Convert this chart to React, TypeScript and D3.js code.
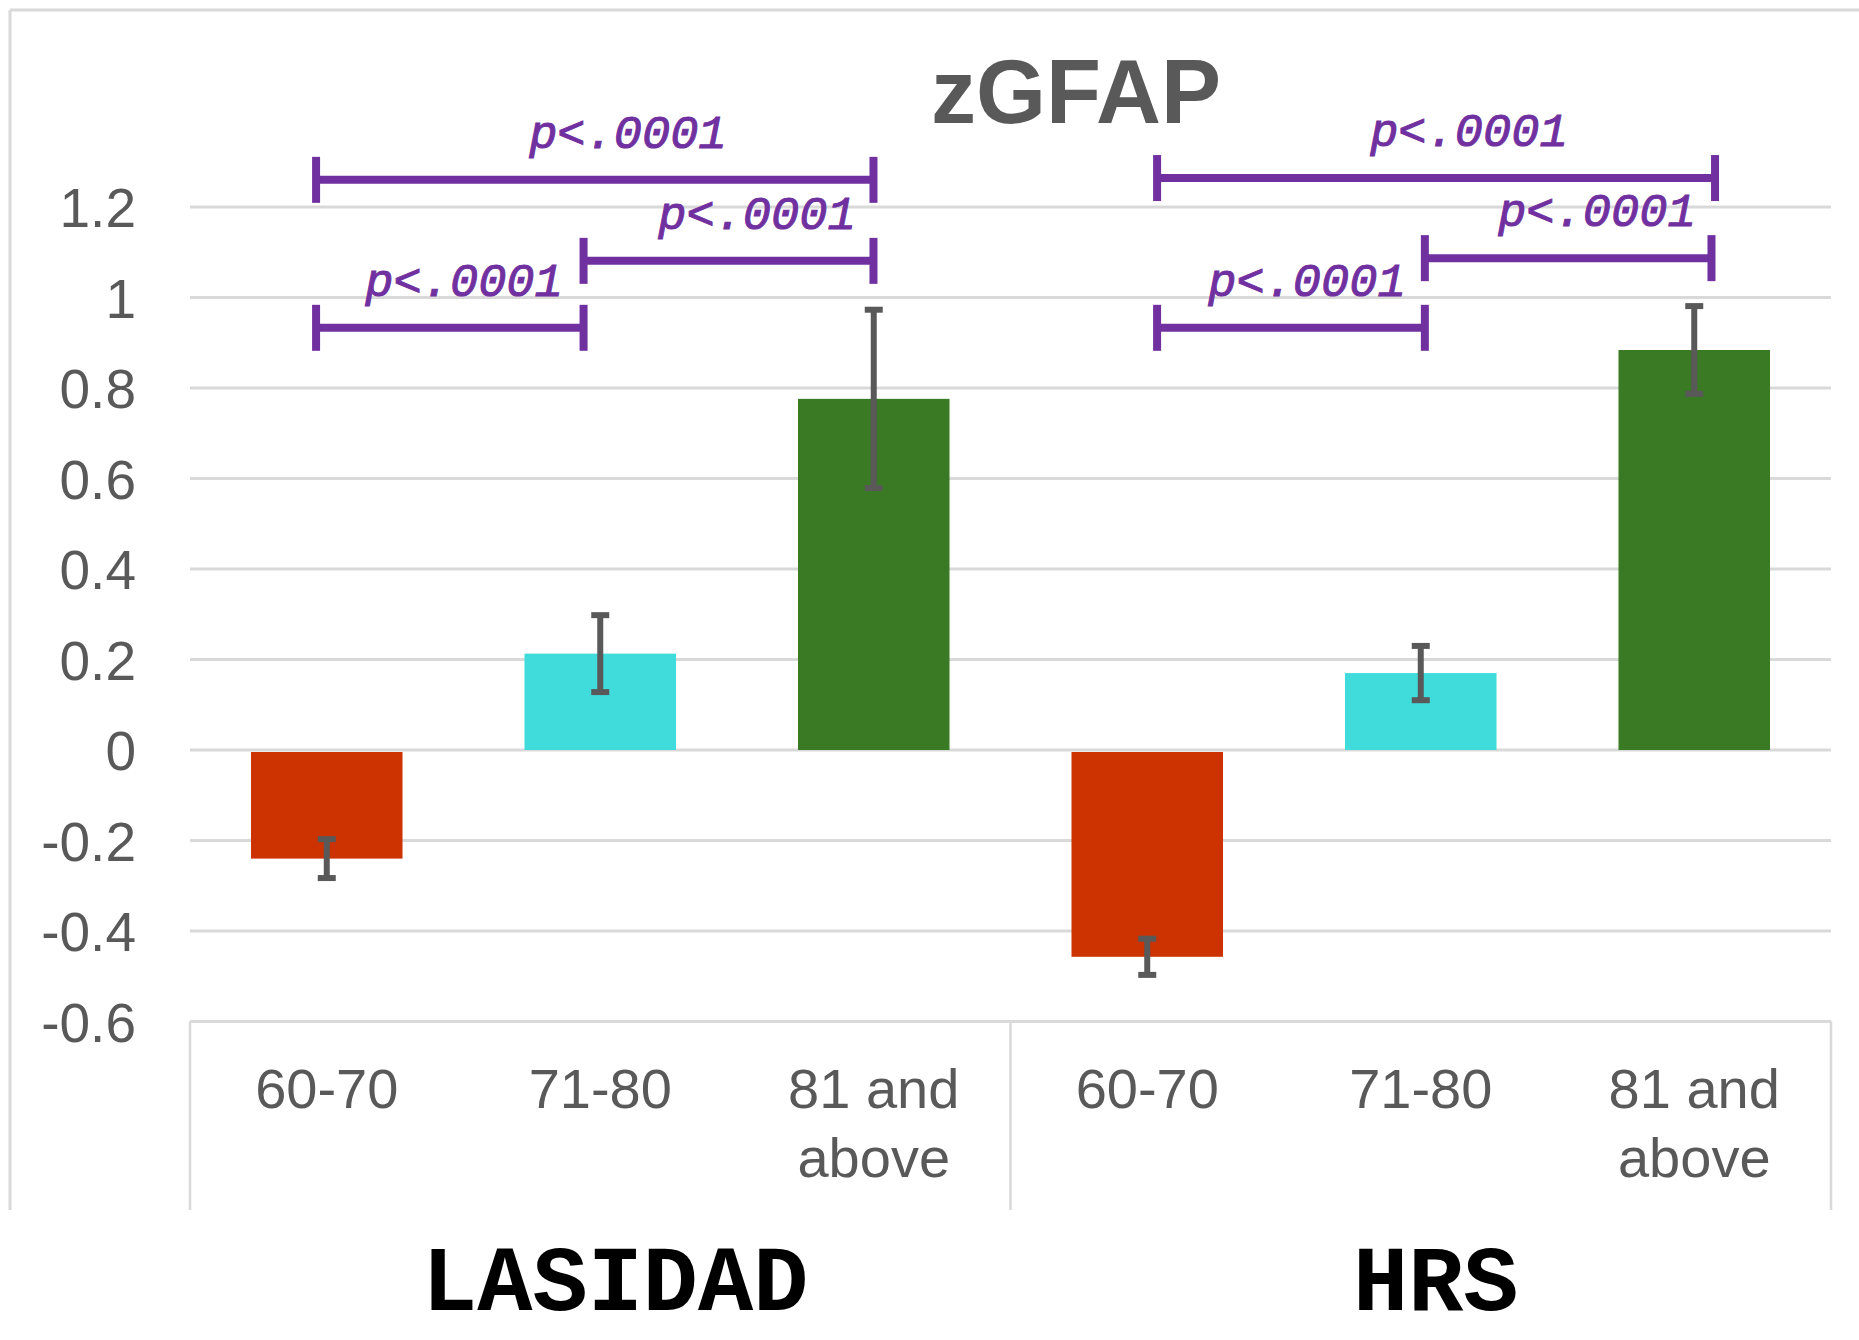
import * as d3 from 'd3'

// categories and values
const groups = ['LASIDAD', 'HRS']
const ageBands = ['60-70', '71-80', '81 and above']
const lasidadMeans = [-0.24, 0.213, 0.776]
const lasidadErrors = [0.043, 0.085, 0.197]
const hrsMeans = [-0.457, 0.17, 0.884]
const hrsErrors = [0.04, 0.06, 0.097]
const barColors = ['#cc3300', '#40dcdc', '#3b7a24']
const yTicks = [-0.6, -0.4, -0.2, 0, 0.2, 0.4, 0.6, 0.8, 1, 1.2]

// significance brackets, positions in category units (0..6) and y units
const bracketStart = [0.461, 1.439, 0.461, 3.536, 4.515, 3.536]
const bracketEnd = [2.499, 2.499, 1.439, 5.576, 5.563, 4.515]
const bracketLevel = [1.26, 1.081, 0.933, 1.264, 1.087, 0.933]
const bracketLabelAt = [1.601, 2.073, 1.002, 4.676, 5.144, 4.084]
const bracketLabel = 'p<.0001'

const W = 1859
const H = 1340
const left = 190
const right = 1831
const boxBottom = 1210
const grey = '#595959'
const gridGrey = '#d9d9d9'

const App = () => {
    const rows = groups.flatMap((g, gi) =>
        ageBands.map((a, ai) => ({
            key: `${g}-${a}`,
            band: a,
            group: gi,
            idx: ai,
            value: gi === 0 ? lasidadMeans[ai] : hrsMeans[ai],
            err: gi === 0 ? lasidadErrors[ai] : hrsErrors[ai]
        }))
    )

    const x = d3
        .scaleBand()
        .domain(rows.map(r => r.key))
        .range([left, right])
        .paddingInner(0.446)
        .paddingOuter(0.223)

    const xu = d3.scaleLinear().domain([0, 6]).range([left, right])

    const y = d3.scaleLinear().domain([-0.6, 1.2]).range([1021.5, 207])

    const fmt = (v: number) => `${+v.toFixed(1)}`

    return (
        <svg width={W} height={H} style={{ position: 'absolute', left: 0, top: 0, background: '#fff' }}>
            {/* outer frame */}
            <line x1={10} x2={W} y1={10} y2={10} stroke={gridGrey} strokeWidth={3} />
            <line x1={10} x2={10} y1={10} y2={boxBottom} stroke={gridGrey} strokeWidth={3} />

            {/* title */}
            <text x={1076} y={123} textAnchor="middle" fontFamily="'Liberation Sans', Arial, sans-serif"
                fontWeight="bold" fontSize={90} fill={grey}>zGFAP</text>

            {/* gridlines + y labels */}
            {yTicks.map(t => (
                <g key={t}>
                    <line x1={left} x2={right} y1={y(t)} y2={y(t)} stroke={gridGrey} strokeWidth={3} />
                    <text x={136} y={y(t)} dy={20} textAnchor="end"
                        fontFamily="'Liberation Sans', Arial, sans-serif" fontSize={55} fill={grey}>{fmt(t)}</text>
                </g>
            ))}

            {/* category box */}
            {[0, 3, 6].map(u => (
                <line key={u} x1={xu(u)} x2={xu(u)} y1={y(-0.6)} y2={boxBottom} stroke={gridGrey} strokeWidth={2.5} />
            ))}

            {/* bars */}
            {rows.map(r => (
                <rect
                    key={r.key}
                    x={x(r.key)}
                    width={x.bandwidth()}
                    y={y(Math.max(0, r.value)) + (r.value < 0 ? 2 : 0)}
                    height={Math.abs(y(r.value) - y(0)) - (r.value < 0 ? 2 : 0)}
                    fill={barColors[r.idx]}
                />
            ))}

            {/* error bars */}
            {rows.map(r => {
                const cx = x(r.key) + x.bandwidth() / 2
                const hi = y(r.value + r.err)
                const lo = y(r.value - r.err)
                return (
                    <g key={r.key} stroke={grey} strokeWidth={6}>
                        <line x1={cx} x2={cx} y1={hi} y2={lo} />
                        <line x1={cx - 9} x2={cx + 9} y1={hi} y2={hi} />
                        <line x1={cx - 9} x2={cx + 9} y1={lo} y2={lo} />
                    </g>
                )
            })}

            {/* category labels */}
            {rows.map(r => {
                const cx = x(r.key) + x.bandwidth() / 2
                const lines = r.band === '81 and above' ? ['81 and', 'above'] : [r.band]
                return (
                    <text key={r.key} x={cx} y={1108} textAnchor="middle"
                        fontFamily="'Liberation Sans', Arial, sans-serif" fontSize={56} fill={grey}>
                        {lines.map((l, i) => (
                            <tspan key={i} x={cx} dy={i === 0 ? 0 : 69}>{l}</tspan>
                        ))}
                    </text>
                )
            })}

            {/* group labels */}
            {groups.map((g, gi) => (
                <text key={g} x={xu(gi * 3 + 1.5) + 15} y={1310} textAnchor="middle"
                    fontFamily="'Liberation Mono', 'Courier New', monospace" fontWeight="bold"
                    fontSize={92} fill="#000">{g}</text>
            ))}

            {/* significance brackets */}
            {bracketStart.map((s, i) => {
                const x0 = xu(s)
                const x1 = xu(bracketEnd[i])
                const by = y(bracketLevel[i])
                return (
                    <g key={i}>
                        <g stroke="#7030a0" strokeWidth={8}>
                            <line x1={x0} x2={x1} y1={by} y2={by} />
                            <line x1={x0} x2={x0} y1={by - 23} y2={by + 23} />
                            <line x1={x1} x2={x1} y1={by - 23} y2={by + 23} />
                        </g>
                        <text x={xu(bracketLabelAt[i])} y={by - 32} textAnchor="middle"
                            fontFamily="'Liberation Mono', 'Courier New', monospace" fontStyle="italic"
                            fontSize={47} fill="#7030a0" stroke="#7030a0" strokeWidth={1}>{bracketLabel}</text>
                    </g>
                )
            })}
        </svg>
    )
}

export default App
